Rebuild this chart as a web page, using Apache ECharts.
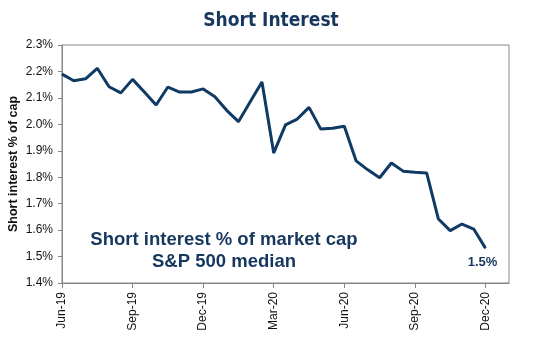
<!DOCTYPE html>
<html>
<head>
<meta charset="utf-8">
<script src="https://cdn.jsdelivr.net/npm/echarts@6/dist/echarts.min.js"></script>
<style>html,body{margin:0;padding:0;background:#fff;}#c{width:537px;height:350px;}</style>
</head>
<body>
<div id="c"></div>
<script>
// Semi-monthly periods (two per month), Jun-19 .. Jan-21
const months = ['Jun-19','Jul-19','Aug-19','Sep-19','Oct-19','Nov-19','Dec-19','Jan-20','Feb-20','Mar-20','Apr-20','May-20','Jun-20','Jul-20','Aug-20','Sep-20','Oct-20','Nov-20','Dec-20','Jan-21'];
const tickLabels = ['Jun-19','Sep-19','Dec-19','Mar-20','Jun-20','Sep-20','Dec-20'];
const shortInterest = [
  2.19, 2.165, 2.172, 2.212, 2.142, 2.119, 2.17, 2.122, 2.073, 2.141,
  2.122, 2.122, 2.134, 2.104, 2.053, 2.01, 2.085, 2.16, 1.892, 1.998,
  2.02, 2.064, 1.982, 1.985, 1.993, 1.862, 1.828, 1.798, 1.854, 1.823,
  1.819, 1.816, 1.642, 1.598, 1.623, 1.604, 1.532
];
const yTicks = { min: 1.4, max: 2.3, step: 0.1 };
const annotation = ['Short interest % of market cap', 'S&P 500 median'];
const lastLabel = '1.5%';

const categories = [];
months.forEach(m => { categories.push(m); categories.push(m + ' (2H)'); });
const cats = categories.slice(0, 39);

const seriesData = shortInterest.map((v, i) => i === shortInterest.length - 1
  ? { value: v, label: { show: true, formatter: lastLabel } }
  : v);

const navy = '#17375E';
const chart = echarts.init(document.getElementById('c'), null, { renderer: 'canvas' });
chart.setOption({
  animation: false,
  backgroundColor: '#fff',
  title: {
    text: 'Short Interest',
    left: 266,
    textAlign: 'center',
    top: 7,
    textStyle: { fontFamily: '"DejaVu Sans Condensed", "Liberation Sans Narrow", "Liberation Sans", Arial', fontWeight: 'bold', fontSize: 19, color: navy }
  },
  grid: { left: 62, right: 28, top: 45, bottom: 67, show: true, borderColor: '#868686', borderWidth: 1, containLabel: false, outerBoundsMode: 'none' },
  xAxis: {
    type: 'category',
    data: cats,
    boundaryGap: false,
    axisLine: { lineStyle: { color: '#868686', width: 1 } },
    axisTick: { show: true, length: 5, lineStyle: { color: '#868686' }, interval: (i) => i % 6 === 0 && i <= 36 },
    axisLabel: {
      interval: (i) => i % 6 === 0 && i <= 36,
      rotate: 90,
      margin: 9,
      fontFamily: 'Liberation Sans, Arial',
      fontSize: 12,
      color: '#111',
      formatter: (v) => tickLabels.includes(v) ? v : ''
    },
    splitLine: { show: false }
  },
  yAxis: {
    type: 'value',
    min: yTicks.min,
    max: yTicks.max,
    interval: yTicks.step,
    name: 'Short interest % of cap',
    nameLocation: 'middle',
    nameGap: 42,
    nameMoveOverlap: false,
    nameTextStyle: { fontFamily: 'Liberation Sans, Arial', fontWeight: 'bold', fontSize: 12.5, color: '#111' },
    axisLine: { show: true, lineStyle: { color: '#868686', width: 1 } },
    axisTick: { show: true, length: 4, lineStyle: { color: '#868686' } },
    axisLabel: {
      margin: 9,
      fontFamily: 'Liberation Sans, Arial',
      fontSize: 12,
      color: '#111',
      formatter: (v) => v.toFixed(1) + '%'
    },
    splitLine: { show: false }
  },
  series: [{
    type: 'line',
    data: seriesData,
    symbol: 'circle',
    symbolSize: 1,
    showSymbol: true,
    itemStyle: { color: '#0E3A64' },
    lineStyle: { color: '#0E3A64', width: 3 },
    label: {
      show: false,
      position: 'bottom',
      distance: 7,
      fontFamily: 'Liberation Sans, Arial',
      fontWeight: 'bold',
      fontSize: 13,
      color: navy,
      offset: [-3, 0]
    }
  }],
  graphic: [{
    type: 'text',
    x: 224,
    y: 229,
    style: {
      text: annotation.join('\n'),
      font: 'bold 18.5px "Liberation Sans", Arial',
      fill: navy,
      align: 'center',
      verticalAlign: 'top',
      lineHeight: 22
    }
  }]
});
</script>
</body>
</html>
